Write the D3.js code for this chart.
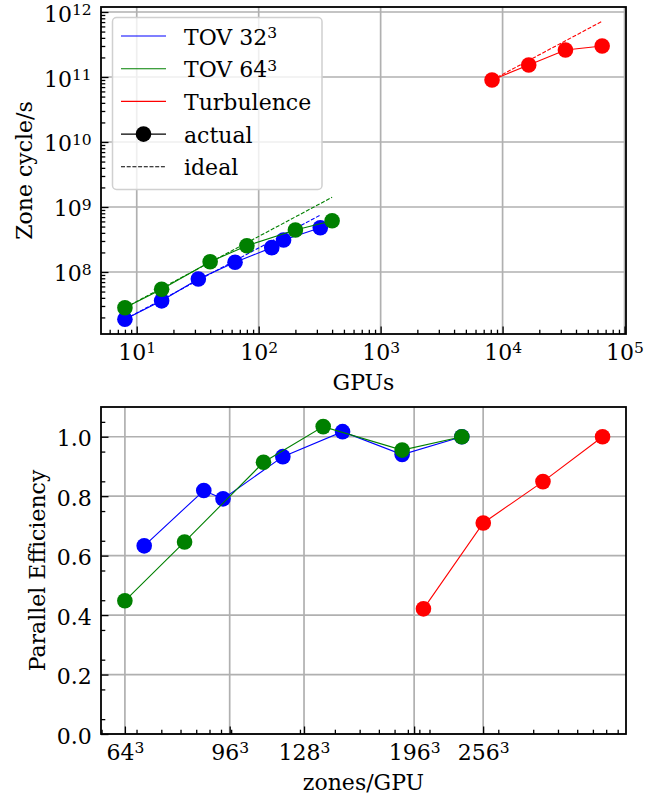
<!DOCTYPE html>
<html>
<head>
<meta charset="utf-8">
<title>Scaling</title>
<script src="https://cdn.jsdelivr.net/npm/d3@7"></script>
<style>
  body { margin: 0; background: #fff; }
  svg text { font-family: "DejaVu Serif", serif; fill: #000; }
</style>
</head>
<body>
<svg id="chart" width="668" height="797"></svg>
<script>
// --- top panel: zone cycles per second vs GPU count ---
var gpusTov32 = [8, 16, 32, 64, 128, 160, 320];
var rateTov32 = [1.87e7, 3.6e7, 7.8e7, 1.41e8, 2.37e8, 3.1e8, 4.8e8];
var gpusTov64 = [8, 16, 40, 80, 200, 400];
var rateTov64 = [2.82e7, 5.42e7, 1.44e8, 2.54e8, 4.43e8, 6.15e8];
var gpusTurb = [8192, 16384, 32768, 65536];
var rateTurb = [9.0e10, 1.53e11, 2.6e11, 3.0e11];

// ideal scaling lines (first and last point)
var idealGpusTov32 = [8, 320], idealTov32 = [1.87e7, 7.5e8];
var idealGpusTov64 = [8, 400], idealTov64 = [2.82e7, 1.41e9];
var idealGpusTurb = [8192, 65536], idealTurb = [9.0e10, 7.2e11];

// --- bottom panel: parallel efficiency vs zones per GPU ---
var zonesTov32 = [3.28e5, 6.55e5, 8.19e5, 1.64e6, 3.28e6, 6.55e6, 1.31e7];
var effTov32 = [0.633, 0.819, 0.791, 0.933, 1.017, 0.940, 1.0];
var zonesTov64 = [2.62e5, 5.24e5, 1.31e6, 2.62e6, 6.55e6, 1.31e7];
var effTov64 = [0.448, 0.646, 0.914, 1.034, 0.955, 1.0];
var zonesTurb = [8.39e6, 1.68e7, 3.36e7, 6.71e7];
var effTurb = [0.421, 0.710, 0.849, 1.0];

var zoneTickBases = [64, 96, 128, 196, 256];
var effTicks = [0, 0.2, 0.4, 0.6, 0.8, 1.0];
var gpuTickExps = [1, 2, 3, 4, 5];
var rateTickExps = [8, 9, 10, 11, 12];

var legendNames = ["TOV 32", "TOV 64", "Turbulence", "actual", "ideal"];
var legendSups = ["3", "3", "", "", ""];

var colTov32 = "#0000ff", colTov64 = "#008000", colTurb = "#ff0000";
var gridCol = "#b0b0b0";
var fs = 22, supFs = 15.5;

var svg = d3.select("#chart");

var P1 = {l: 101, r: 626, t: 7, b: 334};
var P2 = {l: 101, r: 626, t: 407, b: 734};

var x1 = d3.scaleLog().domain([Math.pow(10, 0.707), Math.pow(10, 5.012)]).range([P1.l, P1.r]);
var y1 = d3.scaleLog().domain([Math.pow(10, 7.046), Math.pow(10, 12.077)]).range([P1.b, P1.t]);
var x2 = d3.scaleLog().domain([Math.pow(10, 5.298), Math.pow(10, 7.945)]).range([P2.l, P2.r]);
var y2 = d3.scaleLinear().domain([0, 1.1]).range([P2.b, P2.t]);

function isDecade(v) {
  var e = Math.log10(v);
  return Math.abs(e - Math.round(e)) < 1e-6;
}

function supText(sel, base, exp) {
  sel.text(null);
  sel.append("tspan").text(base);
  if (exp) sel.append("tspan").attr("dy", -6.5).attr("font-size", supFs).text(exp);
}

function styleAxis(g) {
  g.attr("font-family", null).attr("font-size", null);
  g.select(".domain").remove();
  g.selectAll(".tick line").attr("stroke", "#000").attr("stroke-width", 1.3);
}

function drawPanel(P, xs, ys, xMajor, xMinor, yMajor, yMinor, xFmt, yFmt) {
  var g = svg.append("g");
  // grid
  g.selectAll(".gx").data(xMajor).enter().append("line")
    .attr("x1", function(d) { return xs(d); }).attr("x2", function(d) { return xs(d); })
    .attr("y1", P.t).attr("y2", P.b)
    .attr("stroke", gridCol).attr("stroke-width", 1.7);
  g.selectAll(".gy").data(yMajor).enter().append("line")
    .attr("y1", function(d) { return ys(d); }).attr("y2", function(d) { return ys(d); })
    .attr("x1", P.l).attr("x2", P.r)
    .attr("stroke", gridCol).attr("stroke-width", 1.7);

  // minor ticks
  var gxm = g.append("g").attr("transform", "translate(0," + P.b + ")")
    .call(d3.axisBottom(xs).tickValues(xMinor).tickSizeInner(-4.3).tickSizeOuter(0).tickFormat(""));
  styleAxis(gxm);
  var gym = g.append("g").attr("transform", "translate(" + P.l + ",0)")
    .call(d3.axisLeft(ys).tickValues(yMinor).tickSizeInner(-4.3).tickSizeOuter(0).tickFormat(""));
  styleAxis(gym);

  // major ticks + labels
  var gx = g.append("g").attr("transform", "translate(0," + P.b + ")")
    .call(d3.axisBottom(xs).tickValues(xMajor).tickSizeInner(-7.5).tickSizeOuter(0));
  styleAxis(gx);
  gx.selectAll(".tick text").attr("y", 25.5).attr("dy", null).attr("font-size", fs)
    .each(function(d, i) { var l = xFmt(d, i); supText(d3.select(this), l[0], l[1]); });

  var gy = g.append("g").attr("transform", "translate(" + P.l + ",0)")
    .call(d3.axisLeft(ys).tickValues(yMajor).tickSizeInner(-7.5).tickSizeOuter(0));
  styleAxis(gy);
  gy.selectAll(".tick text").attr("x", -9.3).attr("y", 9).attr("dy", null).attr("font-size", fs)
    .each(function(d, i) { var l = yFmt(d, i); supText(d3.select(this), l[0], l[1]); });

  return g;
}

function drawSpines(P) {
  svg.append("rect").attr("x", P.l).attr("y", P.t)
    .attr("width", P.r - P.l).attr("height", P.b - P.t)
    .attr("fill", "none").attr("stroke", "#000").attr("stroke-width", 1.8);
}

function series(xs, ys, xv, yv, col, dashed, markers) {
  var pts = xv.map(function(v, i) { return [xs(v), ys(yv[i])]; });
  var line = d3.line();
  svg.append("path").attr("d", line(pts)).attr("fill", "none")
    .attr("stroke", col).attr("stroke-width", 1.1)
    .attr("stroke-dasharray", dashed ? "4,1.7" : null);
  if (markers) {
    svg.append("g").selectAll("circle").data(pts).enter().append("circle")
      .attr("cx", function(d) { return d[0]; }).attr("cy", function(d) { return d[1]; })
      .attr("r", 7.8).attr("fill", col);
  }
}

// ---------- top panel ----------
var gpuMajor = gpuTickExps.map(function(e) { return Math.pow(10, e); });
var gpuMinor = x1.ticks().filter(function(v) { return !isDecade(v); });
var rateMajor = rateTickExps.map(function(e) { return Math.pow(10, e); });
var rateMinor = y1.ticks().filter(function(v) { return !isDecade(v); });

drawPanel(P1, x1, y1, gpuMajor, gpuMinor, rateMajor, rateMinor,
  function(d, i) { return ["10", String(gpuTickExps[i])]; },
  function(d, i) { return ["10", String(rateTickExps[i])]; });

series(x1, y1, idealGpusTov32, idealTov32, colTov32, true, false);
series(x1, y1, gpusTov32, rateTov32, colTov32, false, true);
series(x1, y1, idealGpusTov64, idealTov64, colTov64, true, false);
series(x1, y1, gpusTov64, rateTov64, colTov64, false, true);
series(x1, y1, idealGpusTurb, idealTurb, colTurb, true, false);
series(x1, y1, gpusTurb, rateTurb, colTurb, false, true);
drawSpines(P1);

svg.append("text").attr("x", (P1.l + P1.r) / 2).attr("y", 390)
  .attr("text-anchor", "middle").attr("font-size", fs).text("GPUs");
svg.append("text").attr("transform", "translate(31.5," + ((P1.t + P1.b) / 2) + ") rotate(-90)")
  .attr("text-anchor", "middle").attr("font-size", fs).text("Zone cycle/s");

// legend
var lg = svg.append("g");
lg.append("rect").attr("x", 112.5).attr("y", 17.5).attr("width", 209.5).attr("height", 172)
  .attr("rx", 4).attr("fill", "#fff").attr("fill-opacity", 0.8)
  .attr("stroke", "#d0d0d0").attr("stroke-width", 1.5);
var legendCols = [colTov32, colTov64, colTurb, "#000", "#000"];
legendNames.forEach(function(name, i) {
  var cy = 36 + i * 32.7;
  lg.append("line").attr("x1", 121).attr("x2", 166).attr("y1", cy).attr("y2", cy)
    .attr("stroke", legendCols[i]).attr("stroke-width", 1.1)
    .attr("stroke-dasharray", i === 4 ? "4,1.7" : null);
  if (i === 3) lg.append("circle").attr("cx", 143.5).attr("cy", cy).attr("r", 7.8).attr("fill", "#000");
  var t = lg.append("text").attr("x", 184).attr("y", cy + 8.5).attr("font-size", fs);
  supText(t, name, legendSups[i]);
});

// ---------- bottom panel ----------
var zoneMajor = zoneTickBases.map(function(b) { return b * b * b; });
var zoneMinor = x2.ticks().filter(function(v) { return !isDecade(v); });
var effMinor = d3.range(0.05, 1.1, 0.1);

drawPanel(P2, x2, y2, zoneMajor, zoneMinor, effTicks, effMinor,
  function(d, i) { return [String(zoneTickBases[i]), "3"]; },
  function(d) { return [d3.format(".1f")(d), ""]; });

series(x2, y2, zonesTov32, effTov32, colTov32, false, true);
series(x2, y2, zonesTov64, effTov64, colTov64, false, true);
series(x2, y2, zonesTurb, effTurb, colTurb, false, true);
drawSpines(P2);

svg.append("text").attr("x", (P2.l + P2.r) / 2).attr("y", 790)
  .attr("text-anchor", "middle").attr("font-size", fs).text("zones/GPU");
svg.append("text").attr("transform", "translate(44.5," + ((P2.t + P2.b) / 2) + ") rotate(-90)")
  .attr("text-anchor", "middle").attr("font-size", fs).text("Parallel Efficiency");
</script>
</body>
</html>
